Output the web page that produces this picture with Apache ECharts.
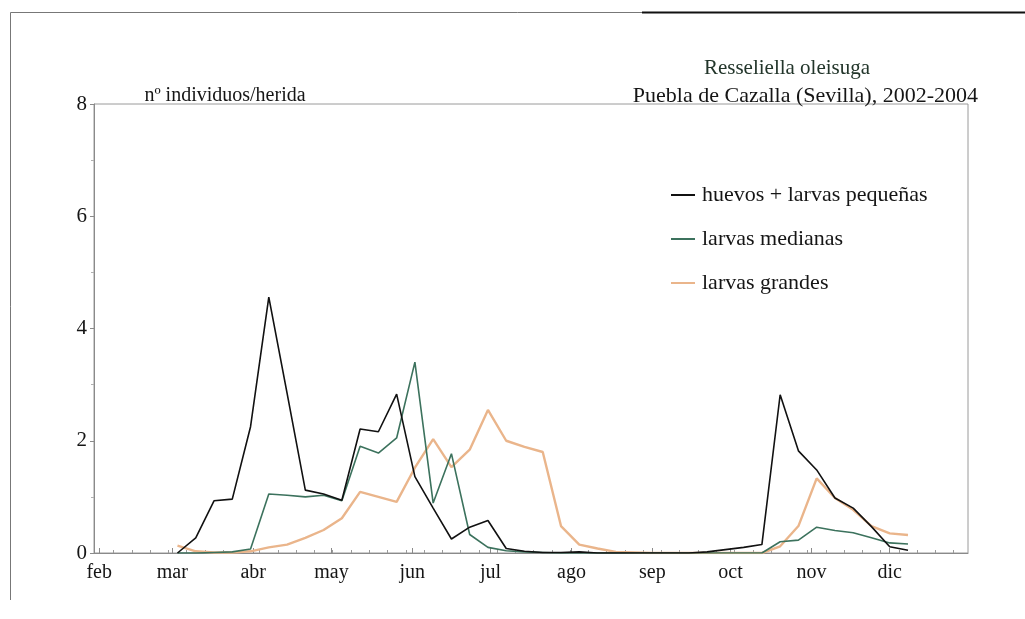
<!DOCTYPE html>
<html>
<head>
<meta charset="utf-8">
<title>Resseliella oleisuga</title>
<script src="https://cdn.jsdelivr.net/npm/echarts@6/dist/echarts.min.js"></script>
<style>
  html, body { margin: 0; padding: 0; background: #fff; }
  #chart { width: 1025px; height: 619px; }
</style>
</head>
<body>
<div id="chart"></div>
<script>
// Sampling dates (day of year), one per week
const diasMuestreo = [62, 69, 76, 83, 90, 97, 104, 111, 118, 125, 132, 139, 146, 153, 160, 167, 174, 181, 188, 195, 202,
  209, 216, 223, 230, 237, 244, 251, 258, 265, 272, 279, 286, 293, 300, 307, 314, 321, 328, 335, 342];

// Individuals per wound
const huevosPequenas = [0.00, 0.27, 0.93, 0.96, 2.25, 4.56, 2.85, 1.12, 1.05, 0.94, 2.21, 2.16, 2.83, 1.36, 0.80, 0.25, 0.46, 0.58, 0.08, 0.03, 0.01,
  0.01, 0.02, 0.00, 0.00, 0.00, 0.00, 0.00, 0.00, 0.02, 0.06, 0.10, 0.15, 2.82, 1.82, 1.48, 0.98, 0.80, 0.47, 0.11, 0.05];
const larvasMedianas = [0.00, 0.00, 0.01, 0.02, 0.07, 1.05, 1.03, 1.00, 1.03, 0.93, 1.90, 1.78, 2.05, 3.40, 0.89, 1.77, 0.33, 0.10, 0.04, 0.02, 0.01,
  0.00, 0.00, 0.00, 0.00, 0.00, 0.00, 0.00, 0.00, 0.00, 0.00, 0.00, 0.00, 0.20, 0.23, 0.46, 0.40, 0.36, 0.27, 0.18, 0.16];
const larvasGrandes = [0.13, 0.03, 0.01, 0.01, 0.03, 0.10, 0.15, 0.27, 0.41, 0.62, 1.09, 1.00, 0.91, 1.52, 2.03, 1.53, 1.84, 2.55, 2.00, 1.89, 1.80,
  0.48, 0.15, 0.08, 0.02, 0.01, 0.00, 0.00, 0.00, 0.00, 0.00, 0.00, 0.00, 0.12, 0.48, 1.33, 0.98, 0.77, 0.48, 0.35, 0.32];

// Month axis: first day of each month (day of year) and its label
const inicioMes = [32, 60, 91, 121, 152, 182, 213, 244, 274, 305, 335];
const nombresMes = ['feb', 'mar', 'abr', 'may', 'jun', 'jul', 'ago', 'sep', 'oct', 'nov', 'dic'];

const nombresSerie = ['huevos + larvas pequeñas', 'larvas medianas', 'larvas grandes'];

// Weekly tick marks along the time axis
const ticksSemana = [];
for (let d = 37.5; d < 365; d += 7) ticksSemana.push(d);

const serif = '"Liberation Serif", "DejaVu Serif", serif';
const pares = (vals) => diasMuestreo.map((d, i) => [d, vals[i]]);

const chart = echarts.init(document.getElementById('chart'), null, { renderer: 'canvas' });

chart.setOption({
  animation: false,
  backgroundColor: '#ffffff',
  grid: {
    left: 94, top: 104, right: 57, bottom: 66,
    show: true, borderColor: '#9a9a9a', borderWidth: 1, backgroundColor: 'transparent'
  },
  legend: {
    data: nombresSerie,
    orient: 'vertical',
    left: 666, top: 178,
    icon: 'rect',
    itemWidth: 24, itemHeight: 2,
    itemGap: 20,
    textStyle: { fontFamily: serif, fontSize: 22, color: '#151515', lineHeight: 24, padding: [0, 0, 0, 2] }
  },
  xAxis: [
    {
      type: 'value', min: 30, max: 365,
      axisLine: { show: true, lineStyle: { color: '#8a8a8a', width: 1 } },
      splitLine: { show: false },
      axisTick: { show: true, inside: true, length: 5, customValues: inicioMes, lineStyle: { color: '#8a8a8a' } },
      axisLabel: {
        customValues: inicioMes,
        formatter: (v) => nombresMes[inicioMes.indexOf(v)] || '',
        fontFamily: serif, fontSize: 20, color: '#151515', margin: 10
      }
    },
    {
      type: 'value', min: 30, max: 365, position: 'bottom', gridIndex: 0,
      axisLine: { show: false },
      splitLine: { show: false },
      axisTick: { show: true, inside: true, length: 3, customValues: ticksSemana, lineStyle: { color: '#9a9a9a' } },
      axisLabel: { show: false }
    }
  ],
  yAxis: {
    type: 'value', min: 0, max: 8, interval: 2,
    axisLine: { show: true, lineStyle: { color: '#8a8a8a', width: 1 } },
    axisTick: { show: true, length: 4, lineStyle: { color: '#8a8a8a' } },
    minorTick: { show: true, splitNumber: 2, length: 3, lineStyle: { color: '#b0b0b0' } },
    splitLine: { show: false },
    axisLabel: { fontFamily: serif, fontSize: 21, color: '#151515', margin: 7 }
  },
  series: [
    {
      name: nombresSerie[2], type: 'line', data: pares(larvasGrandes),
      symbol: 'none', color: '#eab58b', lineStyle: { width: 2.4, color: '#eab58b' }, z: 2
    },
    {
      name: nombresSerie[1], type: 'line', data: pares(larvasMedianas),
      symbol: 'none', color: '#3c725d', lineStyle: { width: 1.6, color: '#3c725d' }, z: 3
    },
    {
      name: nombresSerie[0], type: 'line', data: pares(huevosPequenas),
      symbol: 'none', color: '#111111', lineStyle: { width: 1.6, color: '#111111' }, z: 4
    }
  ],
  graphic: [
    // page frame
    { type: 'line', shape: { x1: 10.5, y1: 12.5, x2: 1025, y2: 12.5 }, style: { stroke: '#777', lineWidth: 1 } },
    { type: 'line', shape: { x1: 642, y1: 12.5, x2: 1025, y2: 12.5 }, style: { stroke: '#111', lineWidth: 2 } },
    { type: 'line', shape: { x1: 10.5, y1: 12.5, x2: 10.5, y2: 600 }, style: { stroke: '#777', lineWidth: 1 } },
    // headings
    { type: 'text', x: 225, y: 96, style: { text: 'nº individuos/herida', font: '20px ' + serif, fill: '#151515', textAlign: 'center', textVerticalAlign: 'middle' } },
    { type: 'text', x: 787, y: 68, style: { text: 'Resseliella oleisuga', font: '21px ' + serif, fill: '#22352a', textAlign: 'center', textVerticalAlign: 'middle' } },
    { type: 'text', x: 978, y: 96, style: { text: 'Puebla de Cazalla (Sevilla), 2002-2004', font: '22px ' + serif, fill: '#151515', textAlign: 'right', textVerticalAlign: 'middle' } }
  ]
});
</script>
</body>
</html>
